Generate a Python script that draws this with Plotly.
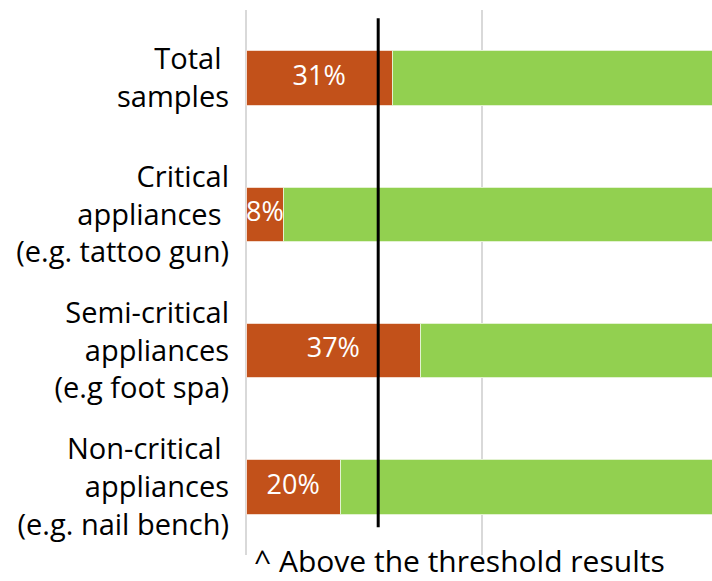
import plotly.graph_objects as go

categories = ["Total <br>samples",
              "Critical<br>appliances <br>(e.g. tattoo gun)",
              "Semi-critical<br>appliances<br>(e.g foot spa)",
              "Non-critical <br>appliances<br>(e.g. nail bench)"]
above = [31, 8, 37, 20]
below = [100 - v for v in above]
labels = [f"{v}%" for v in above]
threshold = 28

orange = "#C2511A"
green = "#92D050"
font = "Open Sans"

fig = go.Figure()
fig.add_trace(go.Bar(y=categories, x=above, orientation="h", marker=dict(color=orange, line=dict(color="#F2D9CC", width=1)),
                     width=0.4, hoverinfo="skip"))
fig.add_trace(go.Bar(y=categories, x=below, orientation="h", marker=dict(color=green, line=dict(color="#E2F2D0", width=1)),
                     width=0.4, hoverinfo="skip"))
# percentage labels in the orange part
fig.add_trace(go.Scatter(y=categories, x=[v / 2 for v in above], mode="text", text=labels,
                         textfont=dict(family=font, size=27, color="white"), hoverinfo="skip"))

fig.add_shape(type="line", x0=threshold, x1=threshold, xref="x", yref="paper", y0=0.051, y1=0.985,
              line=dict(color="black", width=3))

fig.add_annotation(text="^ Above the threshold results", xref="paper", yref="paper", x=0.015, y=-0.01,
                   xanchor="left", yanchor="middle", showarrow=False, borderpad=0,
                   font=dict(family=font, size=30, color="black"))

fig.update_layout(
    barmode="stack", showlegend=False, width=712, height=581,
    margin=dict(l=246, r=0, t=10, b=26),
    plot_bgcolor="white", paper_bgcolor="white",
    font=dict(family=font, size=29, color="black"),
    xaxis=dict(range=[0, 98.7], tick0=0, dtick=50, showticklabels=False, showgrid=True,
               gridcolor="#D9D9D9", gridwidth=1.5, zeroline=True, zerolinecolor="#D9D9D9", zerolinewidth=1.5),
    yaxis=dict(autorange="reversed", showgrid=False, ticklabelstandoff=16,
               tickfont=dict(family=font, size=29, color="black")),
)

fig.write_html("out.html", config={"displayModeBar": False},
               post_script="document.body.style.margin='0';document.body.style.overflow='hidden';")
